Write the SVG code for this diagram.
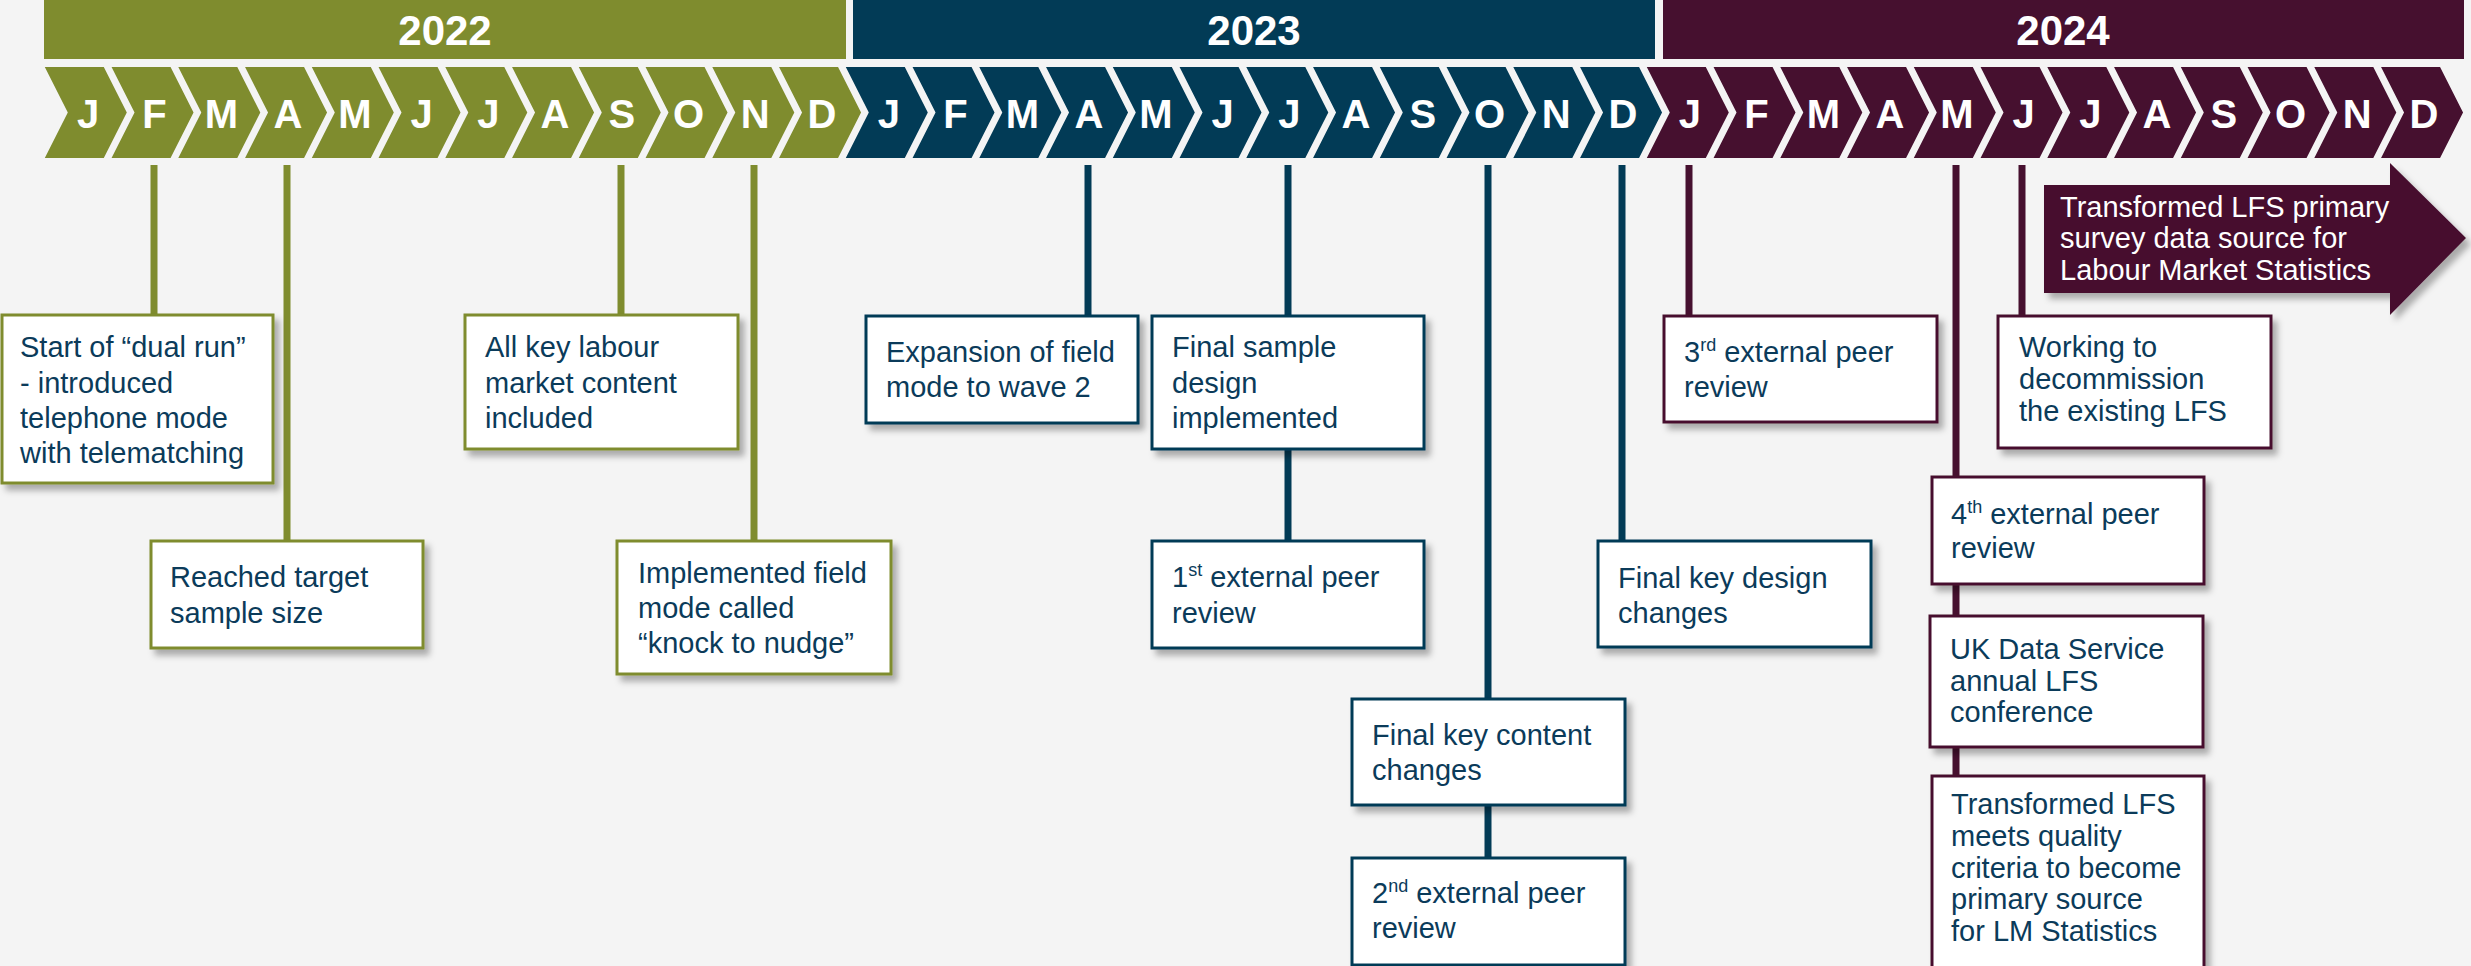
<svg xmlns="http://www.w3.org/2000/svg" width="2471" height="966" viewBox="0 0 2471 966">
<style>
.bg{fill:#f4f4f4}
.y22{fill:#7f8c2e}.y23{fill:#023b56}.y24{fill:#46102f}
.yr{font-family:"Liberation Sans",Arial,sans-serif;font-weight:bold;font-size:42px;fill:#fff;text-anchor:middle}
.mo{font-family:"Liberation Sans",Arial,sans-serif;font-weight:bold;font-size:40px;fill:#fff;text-anchor:middle}
.box{fill:#fff;stroke-width:3;filter:url(#sh)}
.b22{stroke:#7f8c2e}.b23{stroke:#023b56}.b24{stroke:#46102f}
.t{font-family:"Liberation Sans",Arial,sans-serif;font-size:29px;fill:#0b3b5a}
.tw{font-family:"Liberation Sans",Arial,sans-serif;font-size:29px;fill:#fff}
.sup{font-size:18px}
.ln{stroke-width:7;fill:none}
.l22{stroke:#7f8c2e}.l23{stroke:#023b56}.l24{stroke:#46102f}
</style>
<defs>
<filter id="sh" x="-10%" y="-10%" width="130%" height="130%">
<feDropShadow dx="5" dy="6" stdDeviation="3" flood-color="#000" flood-opacity="0.3"/>
</filter>
<polygon id="chev" points="0,67 59,67 82,112.5 59,158 0,158 23,112.5"/>
</defs>
<rect class="bg" x="0" y="0" width="2471" height="966"/>

<g id="years">
<rect class="y22" x="44" y="0" width="802" height="59"/>
<rect class="y23" x="853" y="0" width="802" height="59"/>
<rect class="y24" x="1663" y="0" width="801" height="59"/>
<text class="yr" x="445" y="45">2022</text>
<text class="yr" x="1254" y="45">2023</text>
<text class="yr" x="2063" y="45">2024</text>
</g>

<g id="months">
<use href="#chev" class="y22" x="44.8"/><use href="#chev" class="y22" x="111.55"/><use href="#chev" class="y22" x="178.3"/><use href="#chev" class="y22" x="245.05"/><use href="#chev" class="y22" x="311.8"/><use href="#chev" class="y22" x="378.55"/><use href="#chev" class="y22" x="445.3"/><use href="#chev" class="y22" x="512.05"/><use href="#chev" class="y22" x="578.8"/><use href="#chev" class="y22" x="645.55"/><use href="#chev" class="y22" x="712.3"/><use href="#chev" class="y22" x="779.05"/>
<use href="#chev" class="y23" x="845.8"/><use href="#chev" class="y23" x="912.55"/><use href="#chev" class="y23" x="979.3"/><use href="#chev" class="y23" x="1046.05"/><use href="#chev" class="y23" x="1112.8"/><use href="#chev" class="y23" x="1179.55"/><use href="#chev" class="y23" x="1246.3"/><use href="#chev" class="y23" x="1313.05"/><use href="#chev" class="y23" x="1379.8"/><use href="#chev" class="y23" x="1446.55"/><use href="#chev" class="y23" x="1513.3"/><use href="#chev" class="y23" x="1580.05"/>
<use href="#chev" class="y24" x="1646.8"/><use href="#chev" class="y24" x="1713.55"/><use href="#chev" class="y24" x="1780.3"/><use href="#chev" class="y24" x="1847.05"/><use href="#chev" class="y24" x="1913.8"/><use href="#chev" class="y24" x="1980.55"/><use href="#chev" class="y24" x="2047.3"/><use href="#chev" class="y24" x="2114.05"/><use href="#chev" class="y24" x="2180.8"/><use href="#chev" class="y24" x="2247.55"/><use href="#chev" class="y24" x="2314.3"/><use href="#chev" class="y24" x="2381.05"/>
<text class="mo" y="128"><tspan x="88">J</tspan><tspan x="154.5">F</tspan><tspan x="221.3">M</tspan><tspan x="288">A</tspan><tspan x="354.8">M</tspan><tspan x="421.5">J</tspan><tspan x="488.3">J</tspan><tspan x="555">A</tspan><tspan x="621.8">S</tspan><tspan x="688.5">O</tspan><tspan x="755.3">N</tspan><tspan x="822">D</tspan></text>
<text class="mo" y="128"><tspan x="888.8">J</tspan><tspan x="955.5">F</tspan><tspan x="1022.3">M</tspan><tspan x="1089">A</tspan><tspan x="1155.8">M</tspan><tspan x="1222.5">J</tspan><tspan x="1289.3">J</tspan><tspan x="1356">A</tspan><tspan x="1422.8">S</tspan><tspan x="1489.5">O</tspan><tspan x="1556.3">N</tspan><tspan x="1623">D</tspan></text>
<text class="mo" y="128"><tspan x="1689.8">J</tspan><tspan x="1756.5">F</tspan><tspan x="1823.3">M</tspan><tspan x="1890">A</tspan><tspan x="1956.8">M</tspan><tspan x="2023.5">J</tspan><tspan x="2090.3">J</tspan><tspan x="2157">A</tspan><tspan x="2223.8">S</tspan><tspan x="2290.5">O</tspan><tspan x="2357.3">N</tspan><tspan x="2424">D</tspan></text>
</g>

<g id="connectors">
<line class="ln l22" x1="154" y1="165" x2="154" y2="315"/>
<line class="ln l22" x1="287" y1="165" x2="287" y2="541"/>
<line class="ln l22" x1="621" y1="165" x2="621" y2="315"/>
<line class="ln l22" x1="754" y1="165" x2="754" y2="541"/>
<line class="ln l23" x1="1088" y1="165" x2="1088" y2="316"/>
<line class="ln l23" x1="1288" y1="165" x2="1288" y2="541"/>
<line class="ln l23" x1="1488" y1="165" x2="1488" y2="858"/>
<line class="ln l23" x1="1622" y1="165" x2="1622" y2="541"/>
<line class="ln l24" x1="1689" y1="165" x2="1689" y2="316"/>
<line class="ln l24" x1="1956" y1="165" x2="1956" y2="776"/>
<line class="ln l24" x1="2022" y1="165" x2="2022" y2="316"/>
</g>

<g id="n-dualrun">
<rect class="box b22" x="2" y="315" width="271" height="168"/>
<text class="t" x="20"><tspan x="20" y="357">Start of “dual run”</tspan><tspan x="20" y="392.5">- introduced</tspan><tspan x="20" y="428">telephone mode</tspan><tspan x="20" y="463">with telematching</tspan></text>
</g>
<g id="n-target">
<rect class="box b22" x="151" y="541" width="272" height="107"/>
<text class="t"><tspan x="170" y="587">Reached target</tspan><tspan x="170" y="623">sample size</tspan></text>
</g>
<g id="n-labour">
<rect class="box b22" x="465" y="315" width="273" height="134"/>
<text class="t"><tspan x="485" y="357">All key labour</tspan><tspan x="485" y="393">market content</tspan><tspan x="485" y="428">included</tspan></text>
</g>
<g id="n-knock">
<rect class="box b22" x="617" y="541" width="274" height="133"/>
<text class="t"><tspan x="638" y="583">Implemented field</tspan><tspan x="638" y="618">mode called</tspan><tspan x="638" y="653">“knock to nudge”</tspan></text>
</g>

<g id="n-expansion">
<rect class="box b23" x="866" y="316" width="272" height="107"/>
<text class="t"><tspan x="886" y="362">Expansion of field</tspan><tspan x="886" y="397">mode to wave 2</tspan></text>
</g>
<g id="n-sample">
<rect class="box b23" x="1152" y="316" width="272" height="133"/>
<text class="t"><tspan x="1172" y="357">Final sample</tspan><tspan x="1172" y="393">design</tspan><tspan x="1172" y="428">implemented</tspan></text>
</g>
<g id="n-peer1">
<rect class="box b23" x="1152" y="541" width="272" height="107"/>
<text class="t" x="1172" y="587">1<tspan class="sup" dy="-11">st</tspan><tspan dy="11"> external peer</tspan></text>
<text class="t" x="1172" y="623">review</text>
</g>
<g id="n-content">
<rect class="box b23" x="1352" y="699" width="273" height="106"/>
<text class="t"><tspan x="1372" y="745">Final key content</tspan><tspan x="1372" y="780">changes</tspan></text>
</g>
<g id="n-peer2">
<rect class="box b23" x="1352" y="858" width="273" height="107"/>
<text class="t" x="1372" y="903">2<tspan class="sup" dy="-11">nd</tspan><tspan dy="11"> external peer</tspan></text>
<text class="t" x="1372" y="938">review</text>
</g>
<g id="n-design">
<rect class="box b23" x="1598" y="541" width="273" height="106"/>
<text class="t"><tspan x="1618" y="588">Final key design</tspan><tspan x="1618" y="623">changes</tspan></text>
</g>

<g id="n-peer3">
<rect class="box b24" x="1664" y="316" width="273" height="106"/>
<text class="t" x="1684" y="362">3<tspan class="sup" dy="-11">rd</tspan><tspan dy="11"> external peer</tspan></text>
<text class="t" x="1684" y="397">review</text>
</g>
<g id="n-decommission">
<rect class="box b24" x="1998" y="316" width="273" height="132"/>
<text class="t"><tspan x="2019" y="357">Working to</tspan><tspan x="2019" y="389">decommission</tspan><tspan x="2019" y="421">the existing LFS</tspan></text>
</g>
<g id="n-peer4">
<rect class="box b24" x="1932" y="477" width="272" height="107"/>
<text class="t" x="1951" y="524">4<tspan class="sup" dy="-11">th</tspan><tspan dy="11"> external peer</tspan></text>
<text class="t" x="1951" y="558">review</text>
</g>
<g id="n-ukdata">
<rect class="box b24" x="1930" y="616" width="273" height="131"/>
<text class="t"><tspan x="1950" y="659">UK Data Service</tspan><tspan x="1950" y="691">annual LFS</tspan><tspan x="1950" y="722">conference</tspan></text>
</g>
<g id="n-quality">
<rect class="box b24" x="1932" y="776" width="272" height="192"/>
<text class="t"><tspan x="1951" y="814">Transformed LFS</tspan><tspan x="1951" y="846">meets quality</tspan><tspan x="1951" y="878">criteria to become</tspan><tspan x="1951" y="909">primary source</tspan><tspan x="1951" y="941">for LM Statistics</tspan></text>
</g>
<g id="n-arrow">
<polygon class="y24" filter="url(#sh)" points="2044,185 2390,185 2390,163 2466,238 2390,315 2390,293 2044,293"/>
<text class="tw"><tspan x="2060" y="217">Transformed LFS primary</tspan><tspan x="2060" y="248">survey data source for</tspan><tspan x="2060" y="280">Labour Market Statistics</tspan></text>
</g>
</svg>
